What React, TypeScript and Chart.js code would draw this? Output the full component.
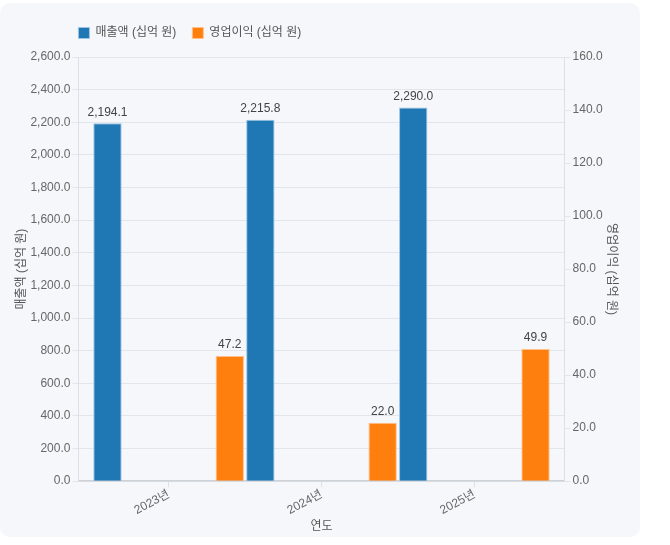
import React, { useEffect, useRef } from "react";
import { Chart, registerables } from "chart.js";

Chart.register(...registerables);

const categories: string[] = ["2023년", "2024년", "2025년"];
const revenue: number[] = [2194.1, 2215.8, 2290.0];
const profit: number[] = [47.2, 22.0, 49.9];
const revenueLabel = "매출액 (십억 원)";
const profitLabel = "영업이익 (십억 원)";
const xTitle = "연도";

const FONT = "'Liberation Sans', Arial, 'Noto Sans CJK KR', sans-serif";
const LEGEND_PAD = 16;
const LEGEND_GAP = 8;

const fmt = (v: number) =>
  v.toLocaleString("en-US", { minimumFractionDigits: 1, maximumFractionDigits: 1 });

const valueLabels = {
  id: "valueLabels",
  afterDatasetsDraw(chart: any) {
    const ctx = chart.ctx;
    ctx.save();
    ctx.font = `12px ${FONT}`;
    ctx.fillStyle = "#444";
    ctx.textAlign = "center";
    ctx.textBaseline = "bottom";
    chart.data.datasets.forEach((ds: any, di: number) => {
      const meta = chart.getDatasetMeta(di);
      meta.data.forEach((el: any, i: number) => {
        const v = ds.data[i].y;
        ctx.fillText(fmt(v), el.x, el.y - 5);
      });
    });
    ctx.restore();
  },
};

const legendShift = {
  id: "legendShift",
  beforeLayout(chart: any) {
    const lg = chart.legend;
    if (lg && !lg.__gapPatched) {
      const orig = lg.fit;
      lg.fit = function () {
        orig.call(this);
        this.height += LEGEND_GAP;
      };
      lg.__gapPatched = true;
    }
  },
  afterLayout(chart: any) {
    if (chart.legend) {
      chart.legend.left = chart.chartArea.left - LEGEND_PAD;
    }
  },
};

export default function App() {
  const ref = useRef<HTMLCanvasElement>(null);
  useEffect(() => {
    if (!ref.current) return;
    Chart.defaults.font.family = FONT;
    const chart = new Chart(ref.current, {
      type: "bar",
      data: {
        datasets: [
          {
            label: revenueLabel,
            data: revenue.map((y, i) => ({ x: i, y })),
            backgroundColor: "#1f77b4",
            borderColor: "#9cc3e4",
            borderWidth: 1,
            yAxisID: "y",
          },
          {
            label: profitLabel,
            data: profit.map((y, i) => ({ x: i, y })),
            backgroundColor: "#ff7f0e",
            borderColor: "#ffc08a",
            borderWidth: 1,
            yAxisID: "y1",
          },
        ],
      },
      options: {
        responsive: false,
        animation: false,
        categoryPercentage: 1.6,
        barPercentage: 0.232,
        layout: { padding: { left: 10, right: 17, top: 8, bottom: 1 } },
        plugins: {
          legend: {
            position: "top",
            align: "start",
            labels: {
              boxWidth: 11,
              boxHeight: 11,
              padding: LEGEND_PAD,
              color: "#555",
              font: { size: 12, family: FONT },
            },
          },
          tooltip: { enabled: false },
        },
        scales: {
          x: {
            type: "linear",
            min: -0.59,
            max: 2.59,
            bounds: "data",
            offset: false,
            afterBuildTicks: (axis: any) => {
              axis.ticks = categories.map((_, i) => ({ value: i }));
            },
            ticks: {
              callback: (v: any) => categories[v] ?? "",
              minRotation: 28,
              maxRotation: 28,
              color: "#666",
              font: { size: 12 },
              padding: 0,
            },
            grid: {
              display: true,
              offset: false,
              drawOnChartArea: false,
              drawTicks: true,
              tickLength: 6,
              color: "#dfe3e8",
            },
            border: { display: true, color: "#cdd2d8", width: 1.5 },
            title: {
              display: true,
              text: xTitle,
              color: "#555",
              font: { size: 12 },
              padding: { top: 2, bottom: 2 },
            },
          },
          y: {
            type: "linear",
            position: "left",
            min: 0,
            max: 2600,
            ticks: {
              stepSize: 200,
              callback: (v: any) => fmt(Number(v)),
              color: "#666",
              font: { size: 12 },
              padding: 2,
            },
            grid: { color: "#e2e6eb", tickLength: 6 },
            border: { color: "#dde1e6" },
            title: {
              display: true,
              text: revenueLabel,
              color: "#555",
              font: { size: 12 },
              padding: { top: 4, bottom: 0 },
            },
          },
          y1: {
            type: "linear",
            position: "right",
            min: 0,
            max: 160,
            ticks: {
              stepSize: 20,
              callback: (v: any) => fmt(Number(v)),
              color: "#666",
              font: { size: 12 },
              padding: 2,
            },
            grid: { drawOnChartArea: false, color: "#e2e6eb", tickLength: 6 },
            border: { color: "#dde1e6" },
            title: {
              display: true,
              text: profitLabel,
              color: "#555",
              font: { size: 12 },
              padding: { top: 4, bottom: 0 },
            },
          },
        },
      },
      plugins: [valueLabels, legendShift],
    } as any);
    return () => chart.destroy();
  }, []);

  return (
    <div style={{ position: "absolute", left: 0, top: 0, width: 670, height: 545, background: "#fff" }}>
      <div
        style={{
          position: "absolute",
          left: 0,
          top: 3,
          width: 640,
          height: 534,
          background: "#f5f7fa",
          borderRadius: 10,
        }}
      >
        <canvas ref={ref} width={640} height={534} style={{ display: "block" }} />
      </div>
    </div>
  );
}
